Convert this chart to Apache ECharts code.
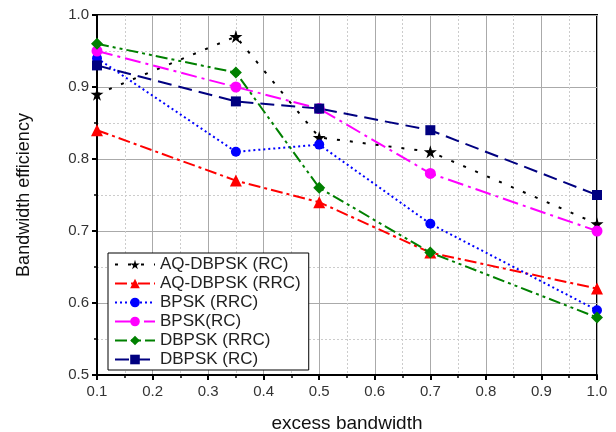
<!DOCTYPE html>
<html>
<head>
<meta charset="utf-8">
<script src="https://cdn.jsdelivr.net/npm/echarts@6/dist/echarts.min.js"></script>
<style>
  html, body { margin: 0; padding: 0; background: #fff; }
  #chart { width: 616px; height: 432px; }
</style>
</head>
<body>
<div id="chart"></div>
<script>
// excess bandwidth values (x)
const alphas = [0.1, 0.35, 0.5, 0.7, 1.0]

// bandwidth efficiency per scheme
const aqDbpskRc = [0.89, 0.97, 0.83, 0.81, 0.71]
const aqDbpskRrc = [0.84, 0.77, 0.74, 0.67, 0.62]
const bpskRrc = [0.94, 0.81, 0.82, 0.71, 0.59]
const bpskRc = [0.95, 0.90, 0.87, 0.78, 0.70]
const dbpskRrc = [0.96, 0.92, 0.76, 0.67, 0.58]
const dbpskRc = [0.93, 0.88, 0.87, 0.84, 0.75]

const starPath = 'path://M50,0 L61,35 L98,35 L68,57 L79,91 L50,70 L21,91 L32,57 L2,35 L39,35 Z'

const pairs = (ys) => alphas.map((x, i) => [x, ys[i]])

const makeSeries = (name, ys, color, dash, symbol, size) => ({
  name,
  type: 'line',
  data: pairs(ys),
  symbol,
  symbolSize: size,
  showSymbol: true,
  clip: false,
  itemStyle: { color },
  lineStyle: { color, width: 2, type: dash },
  emphasis: { disabled: true }
})

const chart = echarts.init(document.getElementById('chart'), null, { renderer: 'canvas' })

const font = 'Liberation Sans, Arial, sans-serif'
const axisText = { color: '#333', fontSize: 15, fontFamily: font }

chart.setOption({
  animation: false,
  backgroundColor: '#fff',
  grid: {
    left: 97, right: 19, top: 15, bottom: 57,
    outerBoundsMode: 'none',
    containLabel: false,
    show: true, borderColor: '#000', borderWidth: 2
  },
  legend: {
    orient: 'vertical',
    left: 108, top: 253,
    padding: [3, 8, 2, 6],
    itemGap: 2,
    itemWidth: 40,
    itemHeight: 12,
    itemTextGap: 8,
    borderColor: '#000',
    borderWidth: 1,
    backgroundColor: '#fff',
    textStyle: { color: '#222', fontSize: 17, fontFamily: font }
  },
  xAxis: {
    type: 'value',
    min: 0.1, max: 1.0, interval: 0.1,
    name: 'excess bandwidth',
    nameLocation: 'middle',
    nameGap: 39,
    nameTextStyle: { color: '#111', fontSize: 19, fontFamily: font },
    axisLine: { lineStyle: { color: '#000', width: 2 } },
    axisTick: { length: 5, lineStyle: { color: '#000', width: 2 } },
    minorTick: { show: true, splitNumber: 2, length: 3, lineStyle: { color: '#000', width: 1.5 } },
    axisLabel: { ...axisText, margin: 9, formatter: (v) => v.toFixed(1) },
    splitLine: { show: true, lineStyle: { color: '#aaa', width: 1 } },
    minorSplitLine: { show: true, lineStyle: { color: '#ccc', type: [2, 2] } }
  },
  yAxis: {
    type: 'value',
    min: 0.5, max: 1.0, interval: 0.1,
    name: 'Bandwidth efficiency',
    nameLocation: 'middle',
    nameGap: 64,
    nameTextStyle: { color: '#111', fontSize: 18, fontFamily: font },
    axisLine: { show: true, lineStyle: { color: '#000', width: 2 } },
    axisTick: { show: true, length: 5, lineStyle: { color: '#000', width: 2 } },
    minorTick: { show: true, splitNumber: 2, length: 3, lineStyle: { color: '#000', width: 1.5 } },
    axisLabel: { ...axisText, margin: 8, formatter: (v) => v.toFixed(1) },
    splitLine: { show: true, lineStyle: { color: '#aaa', width: 1 } },
    minorSplitLine: { show: true, lineStyle: { color: '#ccc', type: [2, 2] } }
  },
  series: [
    makeSeries('AQ-DBPSK (RC)', aqDbpskRc, '#000', [3, 10], starPath, 13),
    makeSeries('AQ-DBPSK (RRC)', aqDbpskRrc, '#ff0000', [12, 4, 3, 4], 'triangle', 12),
    makeSeries('BPSK (RRC)', bpskRrc, '#0000ff', [2, 3], 'circle', 10),
    makeSeries('BPSK(RC)', bpskRc, '#ff00ff', [16, 5, 3, 5], 'circle', 11),
    makeSeries('DBPSK (RRC)', dbpskRrc, '#008000', [12, 4, 3, 4, 3, 4], 'diamond', 12),
    makeSeries('DBPSK (RC)', dbpskRc, '#000080', [14, 7], 'rect', 10)
  ]
})
</script>
</body>
</html>
